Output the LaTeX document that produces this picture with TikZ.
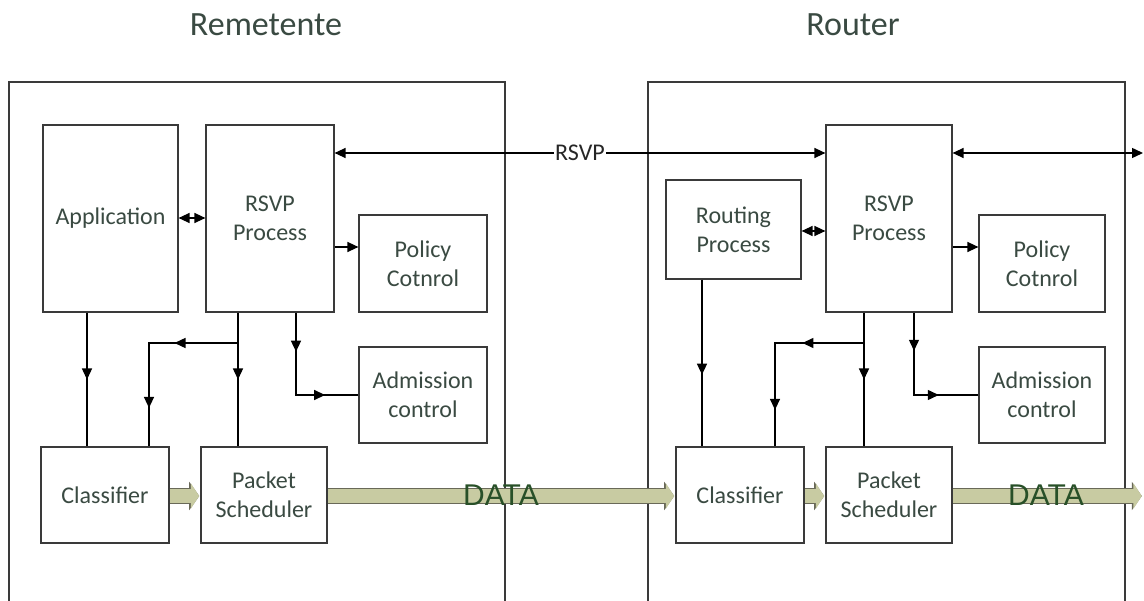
\documentclass[tikz,border=0pt]{standalone}
\usepackage{fontspec}
\setmainfont{Carlito}
\newfontfamily\datafont{Liberation Sans}
\usetikzlibrary{arrows.meta,decorations.markings,calc}

\definecolor{boxc}{RGB}{58,58,58}
\definecolor{txtc}{RGB}{58,74,66}
\definecolor{datac}{RGB}{40,80,40}
\definecolor{khaki}{RGB}{200,203,162}
\definecolor{edgec}{RGB}{105,105,88}

\tikzset{
  tri/.tip={Triangle[length=11pt,width=10pt]},
  box/.style={draw=boxc, line width=1.2pt, fill=white, align=center, inner sep=0pt,
    text=txtc, font=\fontsize{24}{29}\selectfont},
  conn/.style={draw=black, line width=1.4pt},
  arrowat/.style={postaction={decorate}, decoration={markings,
    mark=at position #1 with {\arrow{tri}}}},
  arrowtwo/.style 2 args={postaction={decorate}, decoration={markings,
    mark=at position #1 with {\arrow{tri}},
    mark=at position #2 with {\arrow{tri}}}},
  % block arrow: a darker, slightly larger outline pass under a khaki body
  dataflow/.style={
    preaction={draw=edgec, line width=15.6pt,
      -{Triangle[length=10pt,width=28pt,color=edgec]}},
    draw=khaki, line width=13.4pt, shorten >=1.2pt,
    -{Triangle[length=8.4pt,width=25pt,color=khaki]}},
  title/.style={text=txtc, font=\fontsize{34}{40}\selectfont, anchor=base},
  datalbl/.style={text=datac, font=\datafont\fontsize{30}{35}\selectfont, anchor=base},
}

\begin{document}
\begin{tikzpicture}[x=1pt,y=-1pt]
\useasboundingbox (0,0) rectangle (1144,601);
\fill[white] (0,0) rectangle (1144,601);

% titles
\node[title] (tsend) at (266,36) {Remetente};
\node[title] (trout) at (853,36) {Router};

% host frames (open at the bottom)
\draw[draw=boxc, line width=1.2pt] (9,601) -- (9,82) -- (505,82) -- (505,601);
\draw[draw=boxc, line width=1.2pt] (648,601) -- (648,82) -- (1125,82) -- (1125,601);

% sender blocks
\node[box, minimum width=135pt, minimum height=187pt] (app)   at (110.5,218.5) {Application};
\node[box, minimum width=128pt, minimum height=187pt] (rsvpL) at (270,218.5) {RSVP\\Process};
\node[box, minimum width=128pt, minimum height=97pt]  (polL)  at (423,263.5) {Policy\\Cotnrol};
\node[box, minimum width=128pt, minimum height=96pt]  (admL)  at (423,395) {Admission\\control};
\node[box, minimum width=128pt, minimum height=96pt]  (clsL)  at (105,495) {Classifier};
\node[box, minimum width=126pt, minimum height=96pt]  (psL)   at (264,495) {Packet\\Scheduler};

% router blocks
\node[box, minimum width=135pt, minimum height=99pt]  (routR) at (733.5,229.5) {Routing\\Process};
\node[box, minimum width=126pt, minimum height=187pt] (rsvpR) at (889,218.5) {RSVP\\Process};
\node[box, minimum width=126pt, minimum height=97pt]  (polR)  at (1042,263.5) {Policy\\Cotnrol};
\node[box, minimum width=126pt, minimum height=96pt]  (admR)  at (1042,395) {Admission\\control};
\node[box, minimum width=128pt, minimum height=96pt]  (clsR)  at (740,495) {Classifier};
\node[box, minimum width=126pt, minimum height=96pt]  (psR)   at (889,495) {Packet\\Scheduler};

% reference levels and columns
\coordinate (yR)  at (0,153);
\coordinate (yA)  at (0,218);
\coordinate (yRP) at (0,231);
\coordinate (yP)  at (0,247);
\coordinate (yD)  at (0,496);
\coordinate (xA)  at (87,0);
\coordinate (xB)  at (149,0);
\coordinate (xC)  at (238,0);
\coordinate (xD)  at (296,0);
\coordinate (xRA) at (702,0);
\coordinate (xRB) at (775,0);
\coordinate (xRC) at (864,0);
\coordinate (xRD) at (914,0);
\coordinate (jL)  at (238,343);
\coordinate (jR)  at (864,343);
\coordinate (endR) at (1143,153);
\coordinate (endD) at (1143,496);

% RSVP signalling
\draw[conn, {tri}-{tri}] (rsvpL.east |- yR) -- (rsvpR.west |- yR)
  node[pos=0.5, fill=white, inner sep=1pt, text=black!85, font=\fontsize{24}{29}\selectfont] (rsvplbl) {RSVP};
\draw[conn, {tri}-{tri}] (rsvpR.east |- yR) -- (endR);

% sender connectors
\draw[conn, {tri}-{tri}] (app.east |- yA) -- (rsvpL.west |- yA);
\draw[conn, -{tri}] (rsvpL.east |- yP) -- (polL.west |- yP);
\draw[conn, arrowat=0.5] (app.south -| xA) -- (clsL.north -| xA);
\draw[conn, arrowat=0.5] (rsvpL.south -| xC) -- (psL.north -| xC);
\draw[conn, arrowtwo={0.33}{0.8}] (jL) -| (clsL.north -| xB);
\draw[conn, arrowtwo={0.27}{0.77}] (rsvpL.south -| xD) |- (admL.west);

% router connectors
\draw[conn, {tri}-{tri}] (routR.east |- yRP) -- (rsvpR.west |- yRP);
\draw[conn, -{tri}] (rsvpR.east |- yP) -- (polR.west |- yP);
\draw[conn, arrowat=0.57] (routR.south -| xRA) -- (clsR.north -| xRA);
\draw[conn, arrowat=0.5] (rsvpR.south -| xRC) -- (psR.north -| xRC);
\draw[conn, arrowtwo={0.32}{0.81}] (jR) -| (clsR.north -| xRB);
\draw[conn, arrowtwo={0.26}{0.73}] (rsvpR.south -| xRD) |- (admR.west);

% data path
\draw[dataflow] (clsL.east |- yD) -- (psL.west |- yD);
\draw[dataflow] (psL.east |- yD) -- (clsR.west |- yD);
\draw[dataflow] (clsR.east |- yD) -- (psR.west |- yD);
\draw[dataflow] (psR.east |- yD) -- (endD);

\node[datalbl] (dataL) at (501,506) {DATA};
\node[datalbl] (dataR) at (1046,506) {DATA};
\end{tikzpicture}
\end{document}
